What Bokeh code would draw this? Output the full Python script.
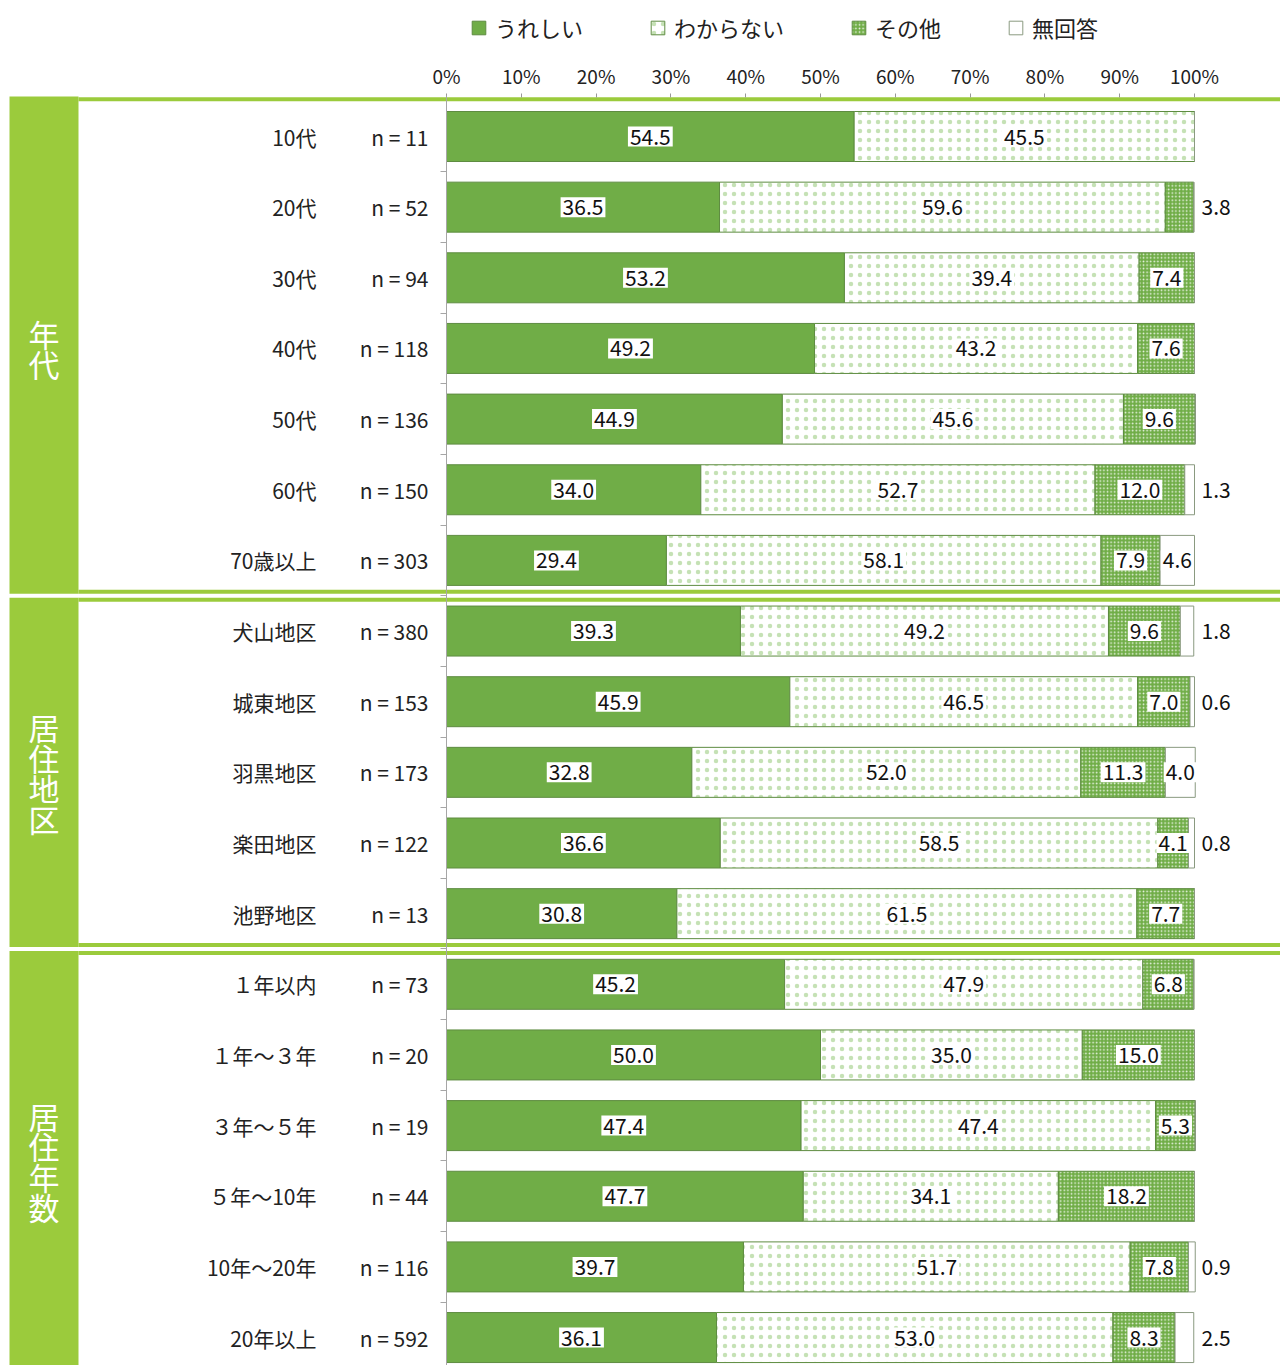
from bokeh.plotting import figure
from bokeh.models import (Range1d, LinearAxis, FixedTicker, PrintfTickFormatter,
                          Legend, LegendItem, ColumnDataSource)
from bokeh.core.properties import value
from bokeh.embed import file_html
from bokeh.resources import INLINE

# ---------------- data ----------------
groups = ["年代", "居住地区", "居住年数"]
group_sizes = [7, 5, 6]
categories = ["10代", "20代", "30代", "40代", "50代", "60代", "70歳以上",
              "犬山地区", "城東地区", "羽黒地区", "楽田地区", "池野地区",
              "１年以内", "１年～３年", "３年～５年", "５年～10年", "10年～20年", "20年以上"]
n_values = [11, 52, 94, 118, 136, 150, 303, 380, 153, 173, 122, 13, 73, 20, 19, 44, 116, 592]
series = ["うれしい", "わからない", "その他", "無回答"]
ureshii = [54.5, 36.5, 53.2, 49.2, 44.9, 34.0, 29.4, 39.3, 45.9, 32.8, 36.6, 30.8, 45.2, 50.0, 47.4, 47.7, 39.7, 36.1]
wakaranai = [45.5, 59.6, 39.4, 43.2, 45.6, 52.7, 58.1, 49.2, 46.5, 52.0, 58.5, 61.5, 47.9, 35.0, 47.4, 34.1, 51.7, 53.0]
sonota = [0, 3.8, 7.4, 7.6, 9.6, 12.0, 7.9, 9.6, 7.0, 11.3, 4.1, 7.7, 6.8, 15.0, 5.3, 18.2, 7.8, 8.3]
mukaito = [0, 0, 0, 0, 0, 1.3, 4.6, 1.8, 0.6, 4.0, 0.8, 0, 0, 0, 0, 0, 0.9, 2.5]
x_ticks = [0, 10, 20, 30, 40, 50, 60, 70, 80, 90, 100]

# ---------------- geometry / style ----------------
W, H = 1280, 1365
X0, PXP = 446.0, 7.48       # px of 0 %, px per %
Y0, ROW = 136.0, 70.65      # px of first row centre, px per row
BAR_H = 50 / ROW

GREEN = "#70AD47"
LIME = "#9BCB3C"
EDGE = "#5E8C41"
FONT_NUM = "Noto Sans CJK JP"
FONT_JP = "Noto Sans CJK JP"


def dx(px):
    return px / PXP


def dy(px):
    return px / ROW


def xc(px_canvas):
    return (px_canvas - X0) / PXP


p = figure(width=W, height=H, output_backend="svg", toolbar_location=None,
           x_range=Range1d(xc(0), xc(W)),
           y_range=Range1d((H - Y0) / ROW, -Y0 / ROW),
           x_axis_location=None, y_axis_location=None,
           min_border=0, outline_line_color=None,
           background_fill_color="white", border_fill_color="white")
p.xgrid.visible = False
p.ygrid.visible = False

nrows = len(categories)
rows = list(range(nrows))

# ---------- group decorations ----------
bounds = []
acc = 0
for s in group_sizes:
    bounds.append((acc - 0.5, acc + s - 0.5))
    acc += s
box_top, box_bot, box_mid = [], [], []
for i, (a, b) in enumerate(bounds):
    t = a - dy(4.7) if i == 0 else a + dy(2)
    bt = b - dy(2) if i < len(bounds) - 1 else (H - Y0) / ROW + 1
    box_top.append(t)
    box_bot.append(bt)
    box_mid.append((a + b) / 2)
p.quad(left=xc(9), right=xc(78), top=box_top, bottom=box_bot,
       fill_color=LIME, line_color=None)
p.text(x=[xc(43.5)] * len(groups), y=box_mid, text=["\n".join(g) for g in groups],
       text_color="white", text_font=value(FONT_JP), text_font_size="31px",
       text_align="center", text_baseline="middle", text_line_height=0.68)

ln_top = [bounds[0][0] - dy(4)]
ln_bot = [bounds[0][0]]
for (a, b) in bounds[:-1]:
    ln_top += [b - dy(6), b + dy(2)]
    ln_bot += [b - dy(2), b + dy(6)]
p.quad(left=xc(78), right=xc(W + 5), top=ln_top, bottom=ln_bot,
       fill_color=LIME, line_color=None)

# ---------- stacked bars ----------
vals = [ureshii, wakaranai, sonota, mukaito]
styles = [
    dict(fill_color=GREEN, line_color=EDGE),
    dict(fill_color="white", line_color=EDGE, hatch_pattern="dot",
         hatch_color="#8CC36B", hatch_alpha=0.5, hatch_scale=9, hatch_weight=0.3),
    dict(fill_color=GREEN, line_color=EDGE, hatch_pattern="dot",
         hatch_color="white", hatch_alpha=0.85, hatch_scale=3.6, hatch_weight=0.5),
    dict(fill_color="white", line_color="#8A9A80"),
]
renderers = []
left = [0.0] * nrows
lab_x, lab_y, lab_t, out_x, out_y, out_t = [], [], [], [], [], []
for s, v, st in zip(series, vals, styles):
    right = [l + x for l, x in zip(left, v)]
    src = ColumnDataSource(dict(y=rows, left=left, right=right))
    r = p.hbar(y="y", left="left", right="right", height=BAR_H, source=src,
               line_width=1, **st)
    renderers.append(r)
    for i in rows:
        if v[i] <= 0:
            continue
        if v[i] >= 3.9:
            lab_x.append((left[i] + right[i]) / 2)
            lab_y.append(i)
            lab_t.append(f"{v[i]:.1f}")
        else:
            out_x.append(100 + dx(7))
            out_y.append(i)
            out_t.append(f"{v[i]:.1f}")
    left = right

p.text(x=lab_x, y=lab_y, text=lab_t, text_font=value(FONT_NUM), text_font_size="21px",
       text_color="#111", text_align="center", text_baseline="middle",
       background_fill_color="white", padding=2)
p.text(x=out_x, y=out_y, text=out_t, text_font=value(FONT_NUM), text_font_size="21px",
       text_color="#111", text_align="left", text_baseline="middle")

# ---------- axes ----------
top_ax = LinearAxis(fixed_location=bounds[0][0] - dy(4),
                    ticker=FixedTicker(ticks=x_ticks),
                    formatter=PrintfTickFormatter(format="%d%%"))
top_ax.axis_line_color = None
top_ax.major_tick_line_color = "#999999"
top_ax.major_tick_out = 4
top_ax.major_tick_in = 0
top_ax.minor_tick_line_color = None
top_ax.major_label_standoff = 4
top_ax.major_label_text_font = FONT_NUM
top_ax.major_label_text_font_size = "19px"
top_ax.major_label_text_color = "#222222"
p.add_layout(top_ax, "above")

bnd_ax = LinearAxis(fixed_location=0,
                    ticker=FixedTicker(ticks=[i + 0.5 for i in rows]),
                    bounds=(bounds[0][0] - dy(6), (H - Y0) / ROW))
bnd_ax.axis_line_color = "#A6A6A6"
bnd_ax.major_tick_line_color = "#A6A6A6"
bnd_ax.major_tick_out = 6
bnd_ax.major_tick_in = 0
bnd_ax.minor_tick_line_color = None
bnd_ax.major_label_text_color = None
p.add_layout(bnd_ax, "left")

for labels, standoff in [(categories, 130), ([f"n = {n}" for n in n_values], 18)]:
    ax = LinearAxis(fixed_location=0, ticker=FixedTicker(ticks=rows),
                    major_label_overrides={i: t for i, t in zip(rows, labels)})
    ax.axis_line_color = None
    ax.major_tick_line_color = None
    ax.minor_tick_line_color = None
    ax.major_tick_out = 0
    ax.major_tick_in = 0
    ax.major_label_standoff = standoff
    ax.major_label_text_font = FONT_NUM
    ax.major_label_text_font_size = "21px"
    ax.major_label_text_color = "#222222"
    p.add_layout(ax, "left")

# ---------- legend ----------
legend = Legend(items=[LegendItem(label=s, renderers=[r]) for s, r in zip(series, renderers)],
                orientation="horizontal", location=(470, H - 43),
                glyph_width=17, glyph_height=17, label_standoff=8, spacing=66,
                padding=0, margin=0, border_line_color=None, background_fill_alpha=0,
                label_text_font=FONT_JP, label_text_font_size="22px",
                label_text_color="#222222")
p.add_layout(legend)

open("out.html", "w").write(file_html(p, INLINE))
